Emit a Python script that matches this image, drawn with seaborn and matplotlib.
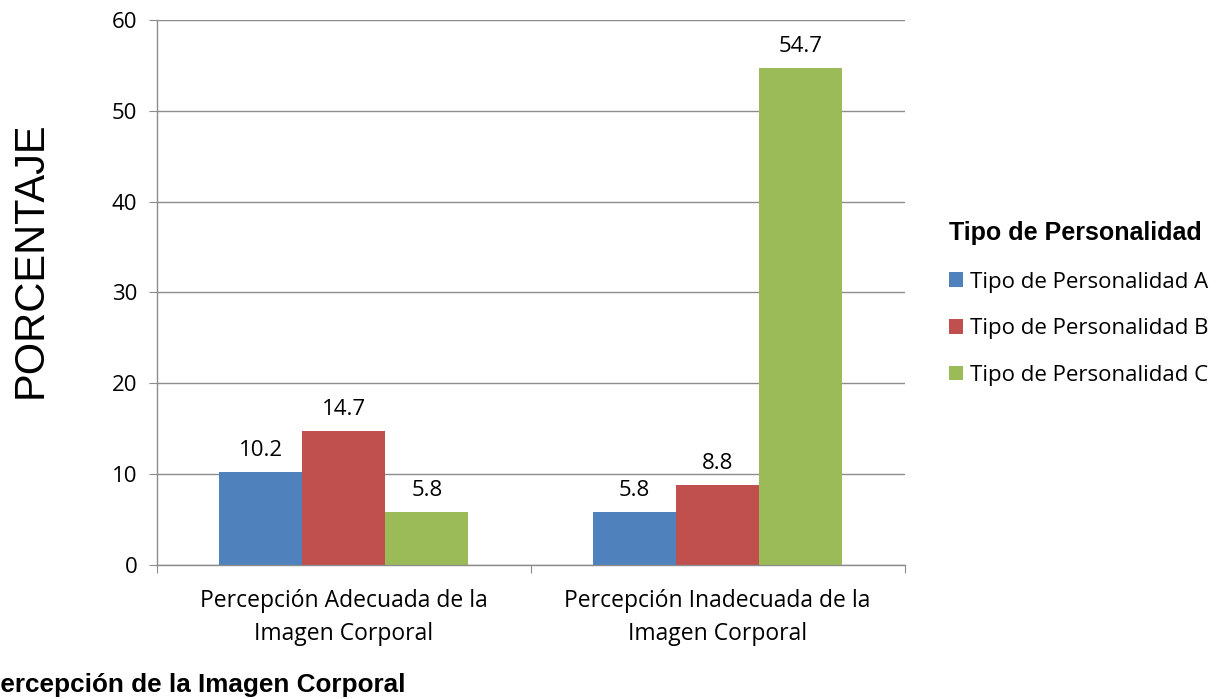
import seaborn as sns
import pandas as pd
import matplotlib
import matplotlib.pyplot as plt
from matplotlib.patches import Patch
matplotlib.use('Agg')

categorias = ["Percepción Adecuada de la\nImagen Corporal", "Percepción Inadecuada de la\nImagen Corporal"]
tipos = ["Tipo de Personalidad A", "Tipo de Personalidad B", "Tipo de Personalidad C"]
valores_a = [10.2, 5.8]
valores_b = [14.7, 8.8]
valores_c = [5.8, 54.7]
colores = ["#4F81BD", "#C0504D", "#9BBB59"]

filas = []
for tipo, vals in zip(tipos, [valores_a, valores_b, valores_c]):
    for cat, v in zip(categorias, vals):
        filas.append({"cat": cat, "tipo": tipo, "valor": v})
df = pd.DataFrame(filas)

sns.set_style("white")
plt.rcParams['font.family'] = ['Open Sans', 'DejaVu Sans']
plt.rcParams['text.color'] = "black"
plt.rcParams['xtick.color'] = "black"
plt.rcParams['ytick.color'] = "black"
plt.rcParams['axes.labelcolor'] = "black"

fs = 16
fig = plt.figure(figsize=(12.24, 6.99), dpi=100)
ax = fig.add_axes([0.128, 0.1917, 0.611, 0.7797])
sns.barplot(data=df, x="cat", y="valor", hue="tipo", palette=dict(zip(tipos, colores)),
            width=0.667, gap=0, saturation=1, ax=ax, legend=False, edgecolor="none")

for cont in ax.containers:
    ax.bar_label(cont, labels=["%.1f" % b.get_height() for b in cont], padding=8, fontsize=fs)

ax.set_ylim(0, 60)
ax.set_xlim(-0.5, 1.5)
ax.set_yticks(range(0, 61, 10))
ax.yaxis.grid(True, color="#8c8c8c", linewidth=1)
ax.set_axisbelow(True)
for s in ["top", "right"]:
    ax.spines[s].set_visible(False)
for s in ["left", "bottom"]:
    ax.spines[s].set_color("#8c8c8c")
    ax.spines[s].set_linewidth(1)
ax.set_xticks([-0.5, 0.5, 1.5], minor=False)
ax.set_xticklabels([])
ax.set_xticks([0, 1], minor=True)
ax.set_xticklabels(categorias, minor=True, fontsize=16.5, linespacing=1.5)
ax.tick_params(axis="x", which="minor", length=0, pad=17)
ax.tick_params(axis="x", which="major", length=6, color="#8c8c8c", direction="out")
ax.tick_params(axis="y", length=6, color="#8c8c8c", direction="out", labelsize=fs, pad=8)
ax.tick_params(axis="both", which="both", bottom=True, left=True)
ax.set_xlabel("")
ax.set_ylabel("PORCENTAJE", family="Liberation Sans", fontsize=30)
ax.yaxis.set_label_coords(-0.142, 0.56)

fig.text(-0.014, 0.003, "Percepción de la Imagen Corporal", family="Liberation Sans",
         fontsize=18.8, fontweight="bold", ha="left", va="bottom")

handles = [Patch(facecolor=c, edgecolor="none") for c in colores]
leg = fig.legend(handles, tipos, loc="upper left", bbox_to_anchor=(0.759, 0.712),
                 frameon=False, fontsize=fs, title="Tipo de Personalidad",
                 handlelength=0.65, handleheight=0.65, handletextpad=0.3, labelspacing=1.15)
leg.get_title().set_fontweight("bold")
leg.get_title().set_family("Liberation Sans")
leg.get_title().set_fontsize(18)
leg._legend_box.align = "left"
leg._legend_box.sep = 19

fig.savefig("out.png", dpi=100)
